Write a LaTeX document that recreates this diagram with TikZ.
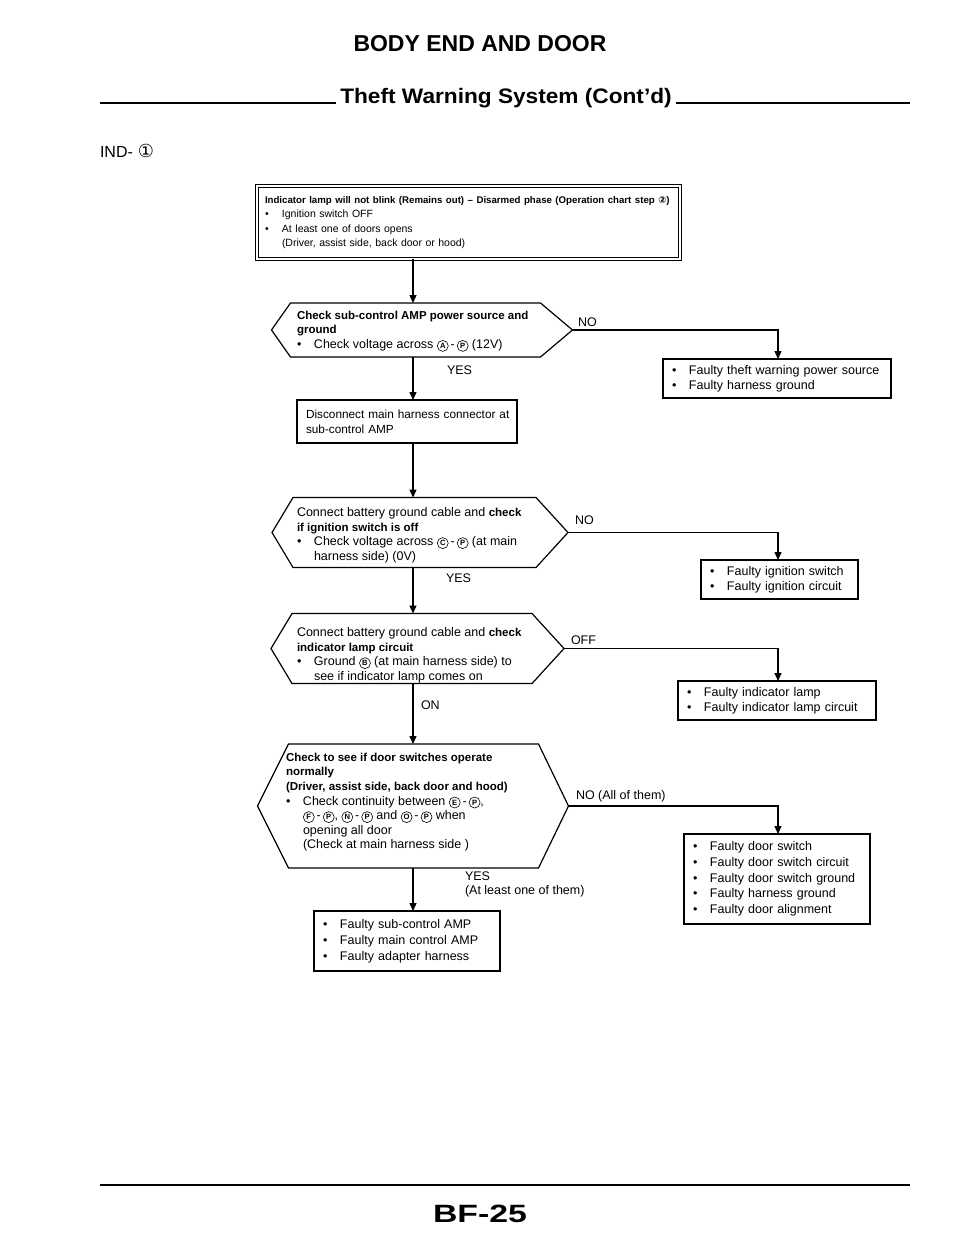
\documentclass[tikz,border=0pt]{standalone}
\usepackage{fontspec}
\setmainfont{Liberation Sans}[BoldFeatures={Scale=0.92}]
\newfontfamily\symf{DejaVu Sans}
\usetikzlibrary{arrows.meta,calc}
\newcommand{\cl}[1]{\tikz[baseline=(c.base)]\node[draw, circle, line width=0.6pt, inner sep=0pt, minimum size=11pt, font=\fontsize{8.3}{8.3}\selectfont\bfseries] (c) {#1};}
\newcommand{\bul}{\makebox[17pt][l]{\textbullet}}
\newcommand{\ind}{\hspace*{17pt}}
\newcommand{\fs}{\fontsize{12.5}{14.6}\selectfont}
% #1 node, #2 left depth, #3 right depth
\newcommand{\hexdraw}[3]{\draw[hexl] (#1.west) -- ([xshift=#2]#1.north west) -- ([xshift=-#3]#1.north east) -- (#1.east) -- ([xshift=-#3]#1.south east) -- ([xshift=#2]#1.south west) -- cycle;}
\begin{document}
\begin{tikzpicture}[x=1pt,y=-1pt,
  every node/.style={inner sep=0pt, outer sep=0pt},
  arr/.style={line width=1.3pt, -{Triangle[width=7pt,length=8pt]}},
  hexl/.style={line width=1.2pt, line join=miter},
  shp/.style={rectangle},
  htxt/.style={anchor=north west, align=left, font=\fs},
  lbl/.style={anchor=base west, font=\fs},
  resbox/.style={draw, line width=2.4pt, anchor=north west, align=left, font=\fs, inner xsep=9pt},
  plainbox/.style={draw, line width=1.4pt, anchor=north west, align=left, font=\fontsize{11.8}{14.6}\selectfont, inner xsep=9pt}
]
\useasboundingbox (0,0) rectangle (960,1247);
\fill[white] (0,0) rectangle (960,1247);

% header
\node[font=\fontsize{25}{28}\selectfont\bfseries, anchor=base] (title) at (480,52) {BODY END AND DOOR};
\node[font=\fontsize{22.8}{26}\selectfont\bfseries, anchor=base] (sub) at (506,103) {\scalebox{1.08}[1]{Theft Warning System (Cont'd)}};
\coordinate (hl1) at (100,103);
\coordinate (hr2) at (910,103);
\draw[line width=2pt] (hl1) -- ([xshift=-4pt]sub.base west);
\draw[line width=2pt] ([xshift=4pt]sub.base east) -- (hr2);
\node[anchor=base west, font=\fontsize{16}{18}\selectfont] (ind) at (100,157) {IND-\hspace{5pt}{\symf\fontsize{18}{18}\selectfont ①}};

\coordinate (ax) at (413,0);
\coordinate (cr) at (778,0);

% top box
\node[draw, double, double distance=1.8pt, line width=0.9pt, anchor=north west,
  minimum width=423pt, minimum height=73pt, text width=407pt, inner xsep=8pt,
  align=left, font=\fontsize{10.5}{14.3}\selectfont] (top) at (257,186)
  {\textbf{Indicator lamp will not blink (Remains out) -- Disarmed phase (Operation chart step {\symf\fontsize{9.6}{10}\selectfont ②})}\\
   \bul Ignition switch OFF\\
   \bul At least one of doors opens\\
   \ind(Driver, assist side, back door or hood)};

% decision 1
\node[shp, minimum width=301pt, minimum height=54pt] (d1) at (422,330) {};
\hexdraw{d1}{19pt}{32pt}
\node[htxt] (d1t) at (297,311) {\textbf{Check sub-control AMP power source and}\\ \textbf{ground}\\ \bul Check voltage across \cl{A}\,-\,\cl{P} (12V)};
\node[lbl] (no1) at (578,326) {NO};
\node[resbox, minimum width=228pt, minimum height=39pt, text width=210pt] (r1) at (663,359)
  {\bul Faulty theft warning power source\\ \bul Faulty harness ground};
\node[lbl] (yes1) at (447,374) {YES};

% box 2
\node[plainbox, minimum width=220pt, minimum height=43pt, text width=202pt] (b2) at (297,400)
  {\mbox{Disconnect main harness connector at}\\ sub-control AMP};

% decision 2
\node[shp, minimum width=296pt, minimum height=70pt] (d2) at (420,532.5) {};
\hexdraw{d2}{21pt}{32pt}
\node[htxt] (d2t) at (297,507.5) {Connect battery ground cable and \textbf{check}\\ \textbf{if ignition switch is off}\\ \bul Check voltage across \cl{C}\,-\,\cl{P} (at main\\ \ind harness side) (0V)};
\node[lbl] (no2) at (575,524) {NO};
\node[resbox, minimum width=157pt, minimum height=39pt, text width=139pt] (r2) at (701,560)
  {\bul Faulty ignition switch\\ \bul Faulty ignition circuit};
\node[lbl] (yes2) at (446,582) {YES};

% decision 3
\node[shp, minimum width=293pt, minimum height=70pt] (d3) at (417.5,648.5) {};
\hexdraw{d3}{21pt}{32pt}
\node[htxt] (d3t) at (297,627.5) {Connect battery ground cable and \textbf{check}\\ \textbf{indicator lamp circuit}\\ \bul Ground \cl{B} (at main harness side) to\\ \ind see if indicator lamp comes on};
\node[lbl] (off3) at (571,644) {OFF};
\node[resbox, minimum width=198pt, minimum height=39pt, text width=180pt] (r3) at (678,681)
  {\bul Faulty indicator lamp\\ \bul Faulty indicator lamp circuit};
\node[lbl] (on3) at (421,709) {ON};

% decision 4
\node[shp, minimum width=311pt, minimum height=124pt] (d4) at (413,806) {};
\hexdraw{d4}{31pt}{30pt}
\node[htxt] (d4t) at (286,753) {\textbf{Check to see if door switches operate}\\ \textbf{normally}\\ \textbf{(Driver, assist side, back door and hood)}\\ \bul Check continuity between \cl{E}\,-\,\cl{P},\\ \ind\cl{F}\,-\,\cl{P}, \cl{N}\,-\,\cl{P} and \cl{O}\,-\,\cl{P} when\\ \ind opening all door\\ \ind(Check at main harness side )};
\node[lbl] (no4) at (576,799) {NO (All of them)};
\node[resbox, minimum width=186pt, minimum height=90pt, text width=168pt, font=\fontsize{12.5}{15.7}\selectfont] (r4) at (684,834)
  {\bul Faulty door switch\\ \bul Faulty door switch circuit\\ \bul Faulty door switch ground\\ \bul Faulty harness ground\\ \bul Faulty door alignment};
\node[lbl, align=left, anchor=north west, font=\fontsize{12.5}{13.5}\selectfont] (yes4) at (465,872) {YES\\(At least one of them)};
\node[resbox, minimum width=186pt, minimum height=60pt, text width=168pt, font=\fontsize{12.5}{16}\selectfont] (fin) at (314,911)
  {\bul Faulty sub-control AMP\\ \bul Faulty main control AMP\\ \bul Faulty adapter harness};

% connectors
\draw[arr] (top.south -| ax) -- (d1.north -| ax);
\draw[arr] (d1.south -| ax) -- (b2.north -| ax);
\draw[arr] (b2.south -| ax) -- (d2.north -| ax);
\draw[arr] (d2.south -| ax) -- (d3.north -| ax);
\draw[arr] (d3.south -| ax) -- (d4.north -| ax);
\draw[arr] (d4.south -| ax) -- (fin.north -| ax);
\draw[arr] (d1.east) -| (r1.north -| cr);
\draw[arr] (d2.east) -| (r2.north -| cr);
\draw[arr] (d3.east) -| (r3.north -| cr);
\draw[arr] (d4.east) -| (r4.north -| cr);

% footer
\coordinate (fl) at (100,1185);
\coordinate (fr) at (910,1185);
\draw[line width=2.5pt] (fl) -- (fr);
\node[font=\fontsize{27.2}{30}\selectfont\bfseries, anchor=base] (page) at (480,1222) {\scalebox{1.35}[1]{BF-25}};
\end{tikzpicture}
\end{document}
